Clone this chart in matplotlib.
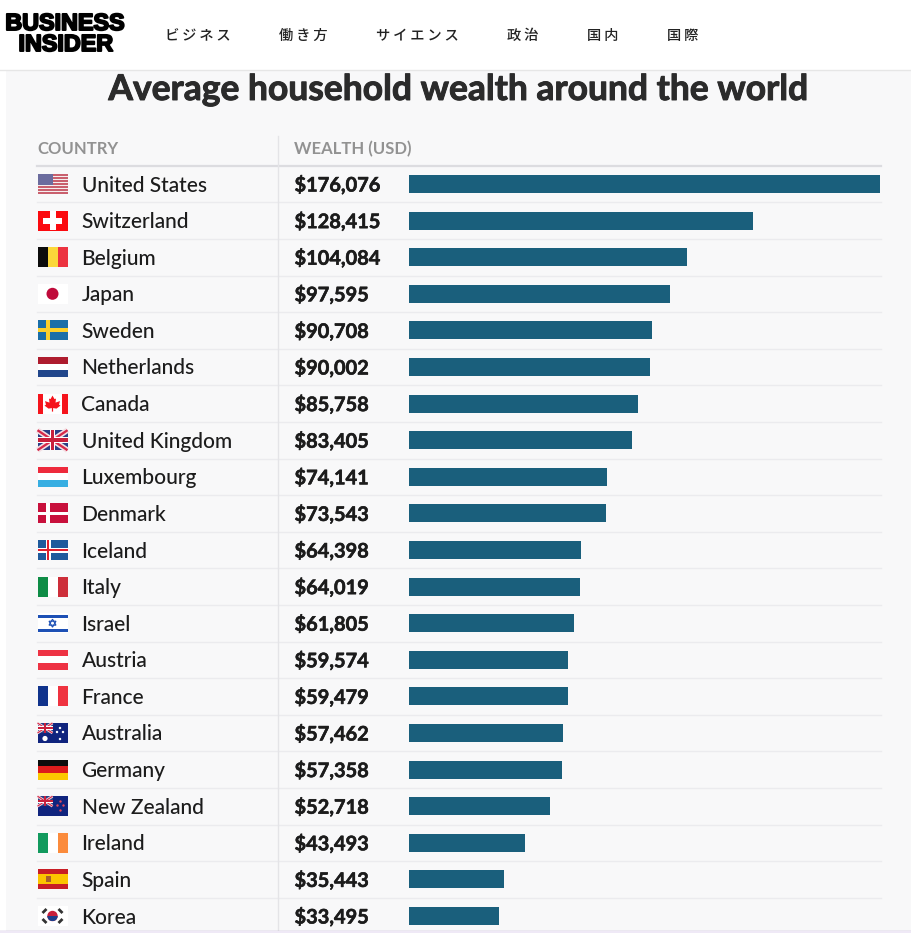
import matplotlib
matplotlib.use("Agg")
import matplotlib.pyplot as plt
from matplotlib.patches import Rectangle, Circle, Polygon
import matplotlib.patheffects as pe

countries = ["United States", "Switzerland", "Belgium", "Japan", "Sweden", "Netherlands", "Canada",
             "United Kingdom", "Luxembourg", "Denmark", "Iceland", "Italy", "Israel", "Austria",
             "France", "Australia", "Germany", "New Zealand", "Ireland", "Spain", "Korea"]
wealth = [176076, 128415, 104084, 97595, 90708, 90002, 85758, 83405, 74141, 73543, 64398,
          64019, 61805, 59574, 59479, 57462, 57358, 52718, 43493, 35443, 33495]
nav_labels = ["ビジネス", "働き方", "サイエンス", "政治", "国内", "国際"]
nav_x = [165, 279, 376, 507, 587, 667]

W, H = 911, 933
ROW0, ROWH = 184, 36.6
FONT = "Lato"
FX = 37.5  # left edge of the flags

fig = plt.figure(figsize=(W / 100, H / 100), dpi=100, facecolor="white")

# page layer in pixel coordinates
ax = fig.add_axes([0, 0, 1, 1])
ax.set_xlim(0, W)
ax.set_ylim(H, 0)
ax.axis("off")

ax.add_patch(Rectangle((6, 70), W - 6, H - 70, color="#f8f8f9", lw=0))
ax.plot([0, W], [69.5, 69.5], color="#e6e6e6", lw=1)

# logo
for txt, cx, cy in [("BUSINESS", 65, 23.5), ("INSIDER", 66, 44.5)]:
    ax.text(cx, cy, txt, family="Liberation Sans", weight="bold", fontsize=16.8, color="black",
            ha="center", va="center", path_effects=[pe.withStroke(linewidth=1.4, foreground="black")])

for lab, x in zip(nav_labels, nav_x):
    ax.text(x, 36, "\u2009".join(lab), family=["Noto Sans CJK JP", "DejaVu Sans"], fontsize=10.3,
            color="#222222", ha="left", va="center", weight="medium")

ax.text(458, 90, "Average household wealth around the world", family=FONT, weight="bold",
        fontsize=25.5, color="#2b2b2b", ha="center", va="center",
        path_effects=[pe.withStroke(linewidth=0.7, foreground="#2b2b2b")])

ax.text(37, 149, "COUNTRY", family=FONT, weight="bold", fontsize=12, color="#929292", va="center")
ax.text(294.5, 149, "WEALTH (USD)", family=FONT, weight="bold", fontsize=12, color="#929292", va="center")
ax.plot([37, 881], [165.7, 165.7], color="#dcdce0", lw=1.6)
ax.plot([278, 278], [136, 930], color="#e4e4e7", lw=1)


def rect(x, y, w, h, c, z=3):
    ax.add_patch(Rectangle((x, y), w, h, color=c, lw=0, zorder=z))


def hbands(cy, colors):
    h = 20 / len(colors)
    for k, c in enumerate(colors):
        rect(FX, cy - 10 + k * h, 30, h, c)


def vbands(cy, colors):
    w = 30 / len(colors)
    for k, c in enumerate(colors):
        rect(FX + k * w, cy - 10, w, 20, c)


def cross(cy, bg, c, inner=None, cx=48, t=5):
    rect(FX, cy - 10, 30, 20, bg)
    rect(FX, cy - t / 2, 30, t, c)
    rect(cx - t / 2, cy - 10, t, 20, c)
    if inner:
        rect(FX, cy - 1, 30, 2, inner)
        rect(cx - 1, cy - 10, 2, 20, inner)


def jack(x, y, w, h):
    rect(x, y, w, h, "#2a3f85")
    for a, b in [((x, y), (x + w, y + h)), ((x, y + h), (x + w, y))]:
        ax.plot([a[0], b[0]], [a[1], b[1]], color="#f3dfe3", lw=h / 5, zorder=4, solid_capstyle="butt")
        ax.plot([a[0], b[0]], [a[1], b[1]], color="#d6294a", lw=h / 12, zorder=4, solid_capstyle="butt")
    rect(x, y + h * 0.34, w, h * 0.32, "white", 5)
    rect(x + w * 0.41, y, w * 0.18, h, "white", 5)
    rect(x, y + h * 0.4, w, h * 0.2, "#c8203c", 6)
    rect(x + w * 0.44, y, w * 0.12, h, "#c8203c", 6)


def flag(name, cy):
    cx = FX + 15
    if name == "United States":
        for k in range(13):
            rect(FX, cy - 10 + k * 20 / 13, 30, 20 / 13, "#c9606e" if k % 2 == 0 else "#f5eeee")
        rect(FX, cy - 10, 15, 10.8, "#6b6c9e", 4)
    elif name == "Switzerland":
        rect(FX, cy - 10, 30, 20, "#fb0a0f")
        rect(cx - 9.5, cy - 3, 19, 6, "white", 4)
        rect(cx - 3, cy - 9.5, 6, 19, "white", 4)
    elif name == "Belgium":
        vbands(cy, ["#0c0c0c", "#fbd83a", "#ec3340"])
    elif name == "Japan":
        rect(FX, cy - 10, 30, 20, "white")
        ax.add_patch(Circle((cx, cy), 6, color="#bf0a3a", lw=0, zorder=4))
    elif name == "Sweden":
        cross(cy, "#1a6ea8", "#fbd02c", t=4, cx=48)
    elif name == "Netherlands":
        hbands(cy, ["#ae1c2e", "white", "#21468b"])
    elif name == "Canada":
        rect(FX, cy - 10, 30, 20, "white")
        rect(FX, cy - 10, 5.5, 20, "#f5141c", 4)
        rect(FX + 24.5, cy - 10, 5.5, 20, "#f5141c", 4)
        ax.add_patch(Polygon([(cx, cy - 8), (cx + 2, cy - 4.5), (cx + 3.5, cy - 5), (cx + 3, cy - 1), (cx + 7.5, cy - 2.5),
                              (cx + 6.5, cy + 1), (cx + 8, cy + 2), (cx + 4, cy + 5), (cx + 0.6, cy + 4.5), (cx + 0.6, cy + 8),
                              (cx - 0.6, cy + 8), (cx - 0.6, cy + 4.5), (cx - 4, cy + 5), (cx - 8, cy + 2), (cx - 6.5, cy + 1),
                              (cx - 7.5, cy - 2.5), (cx - 3, cy - 1), (cx - 3.5, cy - 5), (cx - 2, cy - 4.5)],
                             color="#f5141c", lw=0, zorder=4))
    elif name == "United Kingdom":
        jack(FX, cy - 10, 30, 20)
    elif name == "Luxembourg":
        hbands(cy, ["#ee2a3c", "white", "#37aee2"])
    elif name == "Denmark":
        cross(cy, "#c8103c", "white", cx=48, t=3.5)
    elif name == "Iceland":
        cross(cy, "#1f5a9c", "white", "#e0202f", cx=48, t=5)
    elif name == "Italy":
        vbands(cy, ["#0e8c46", "white", "#cd2e3a"])
    elif name == "Israel":
        rect(FX, cy - 10, 30, 20, "white")
        rect(FX, cy - 8.5, 30, 3, "#1d50b5", 4)
        rect(FX, cy + 5.5, 30, 3, "#1d50b5", 4)
        ax.add_patch(Polygon([(cx, cy - 4), (cx + 3.5, cy + 2), (cx - 3.5, cy + 2)], fill=False, ec="#1d50b5", lw=0.8, zorder=4))
        ax.add_patch(Polygon([(cx, cy + 4), (cx + 3.5, cy - 2), (cx - 3.5, cy - 2)], fill=False, ec="#1d50b5", lw=0.8, zorder=4))
    elif name == "Austria":
        hbands(cy, ["#ee3344", "white", "#ee3344"])
    elif name == "France":
        vbands(cy, ["#10338c", "white", "#ef3340"])
    elif name == "Australia":
        rect(FX, cy - 10, 30, 20, "#10247e")
        jack(FX, cy - 10, 15, 10)
        ax.scatter([FX + 7.5, FX + 22.5, FX + 25.5, FX + 22.5, FX + 19.5], [cy + 5.5, cy - 5, cy - 1, cy + 6, cy - 1],
                   s=[14, 3, 3, 3, 3], color="white", lw=0, zorder=7)
    elif name == "Germany":
        hbands(cy, ["#0c0c0c", "#dd1c1c", "#fcc800"])
    elif name == "New Zealand":
        rect(FX, cy - 10, 30, 20, "#10247e")
        jack(FX, cy - 10, 15, 10)
        ax.scatter([FX + 22.5, FX + 25.5, FX + 22.5, FX + 19.5], [cy - 5, cy - 1, cy + 4, cy - 1], s=3,
                   color="#e84a5a", lw=0, zorder=7)
    elif name == "Ireland":
        vbands(cy, ["#129a5e", "white", "#fb8b3c"])
    elif name == "Spain":
        hbands(cy, ["#c81d25", "#fcc400", "#fcc400", "#c81d25"])
        rect(FX + 8, cy - 3, 5, 6, "#a8602c", 4)
    elif name == "Korea":
        rect(FX, cy - 10, 30, 20, "white")
        ax.add_patch(Circle((cx, cy), 5.2, color="#c8203c", lw=0, zorder=4))
        ax.add_patch(Rectangle((cx - 5.2, cy), 10.4, 5.2, color="#1d3f8c", lw=0, zorder=5,
                               clip_path=Circle((cx, cy), 5.2, transform=ax.transData)))
        for dx, dy in [(-8, -5), (8, -5), (-8, 5), (8, 5)]:
            ax.plot([cx + dx - 2, cx + dx + 2], [cy + dy + 2, cy + dy - 2] if dx * dy > 0 else [cy + dy - 2, cy + dy + 2],
                    color="#333333", lw=2, zorder=4, solid_capstyle="butt")


for i, (name, val) in enumerate(zip(countries, wealth)):
    cy = ROW0 + i * ROWH
    if i > 0:
        ax.plot([37, 881], [cy - ROWH / 2, cy - ROWH / 2], color="#ebebee", lw=1, zorder=1)
    flag(name, cy)
    ax.text(81.5, cy + 1.5, name, family=FONT, fontsize=15, color="#1c1c1c", va="center", weight="medium")
    ax.text(294.5, cy + 1, f"${val:,}", family=FONT, fontsize=14.4, color="#1c1c1c", va="center", weight="bold",
            path_effects=[pe.withStroke(linewidth=0.4, foreground="#1c1c1c")])

ax.plot([0, W], [930.5, 930.5], color="#b9a9cc", lw=1, zorder=8)
ax.add_patch(Rectangle((0, 931), W, 2, color="#efe9f6", lw=0, zorder=8))

# bars on their own axes, row index on y, dollars on x
bx = fig.add_axes([409 / W, 0, 471 / W, (H - 165.7) / H])
bx.patch.set_alpha(0)
bx.barh(range(len(wealth)), wealth, height=0.49, color="#1a5f7c")
bx.set_xlim(0, max(wealth))
bx.set_ylim((H - ROW0) / ROWH, -(ROW0 - 165.7) / ROWH)
bx.axis("off")

fig.savefig("out.png", dpi=100)
